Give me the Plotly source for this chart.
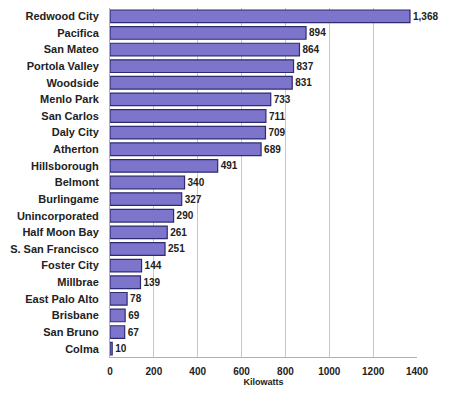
import plotly.graph_objects as go

# === DATA ===
cities = [
    "Redwood City", "Pacifica", "San Mateo", "Portola Valley", "Woodside",
    "Menlo Park", "San Carlos", "Daly City", "Atherton", "Hillsborough",
    "Belmont", "Burlingame", "Unincorporated", "Half Moon Bay",
    "S. San Francisco", "Foster City", "Millbrae", "East Palo Alto",
    "Brisbane", "San Bruno", "Colma",
]
kilowatts = [1368, 894, 864, 837, 831, 733, 711, 709, 689, 491,
             340, 327, 290, 261, 251, 144, 139, 78, 69, 67, 10]
x_ticks = [0, 200, 400, 600, 800, 1000, 1200, 1400]

labels = [f"{v:,}" for v in kilowatts]

fig = go.Figure()
fig.add_trace(go.Bar(
    y=cities, x=kilowatts, orientation="h",
    marker=dict(color="#7d74cc", line=dict(color="#2f2b70", width=1.2)),
    text=labels, textposition="outside", cliponaxis=False,
    textfont=dict(family="Liberation Sans", size=10, color="#222222", weight="bold"),
))

# the page has an 8px body margin, so the figure is sized 442x389
fig.update_layout(
    width=442, height=389,
    margin=dict(l=102, r=33, t=0, b=40),
    paper_bgcolor="white", plot_bgcolor="white",
    showlegend=False, bargap=0.24,
    font=dict(family="Liberation Sans", size=10, color="#222222"),
    xaxis=dict(
        range=[0, 1400], tickvals=x_ticks, showgrid=True, gridcolor="#c8c8c8",
        showline=True, linecolor="#b0b0b0", zeroline=False, automargin=False,
        ticks="outside", ticklen=5, tickcolor="white",
        tickfont=dict(size=10, weight="bold", color="#222222"),
        title=dict(text="Kilowatts", font=dict(size=9, weight="bold"), standoff=2),
    ),
    yaxis=dict(
        autorange="reversed", showline=True, linecolor="#b0b0b0", automargin=False,
        ticks="outside", ticklen=8, tickcolor="white",
        tickfont=dict(size=11, weight="bold", color="#222222"),
    ),
)

fig.write_html("out.html")
